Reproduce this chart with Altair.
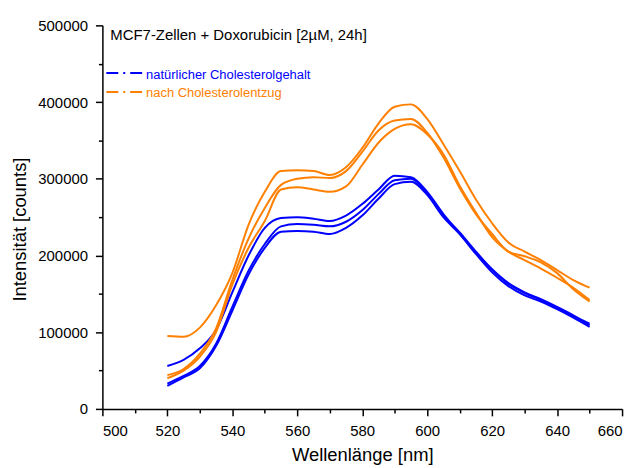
import altair as alt
import pandas as pd

wavelength = [520, 525, 530, 535, 540, 545, 550, 555, 560, 565, 570, 575, 580,
              585, 590, 595, 600, 605, 610, 615, 620, 625, 630, 635, 640, 645, 650]

blue_1 = [56000, 64000, 79000, 103000, 152000, 200000, 236000, 249000, 250000, 248000,
          245000, 252000, 267000, 286000, 304000, 302000, 283000, 254000, 229000, 204000,
          181000, 163000, 151000, 142000, 131000, 121000, 111000]
blue_2 = [33000, 43000, 56000, 85000, 133000, 180000, 215000, 238000, 241000, 240000,
          238000, 244000, 259000, 280000, 298000, 300000, 281000, 252000, 230000, 205000,
          182000, 164000, 152000, 143000, 133000, 122000, 109000]
blue_3 = [30000, 41000, 53000, 82000, 128000, 175000, 210000, 231000, 232000, 231000,
          228000, 236000, 252000, 274000, 293000, 296000, 279000, 250000, 228000, 202000,
          178000, 160000, 148000, 140000, 130000, 119000, 107000]
orange_1 = [95000, 94000, 106000, 135000, 177000, 240000, 283000, 310000, 311000, 310000,
            305000, 315000, 340000, 372000, 394000, 397000, 378000, 345000, 310000, 273000,
            242000, 217000, 205000, 194000, 181000, 168000, 158000]
orange_2 = [44000, 52000, 72000, 105000, 168000, 222000, 262000, 292000, 300000, 302000,
            301000, 310000, 335000, 363000, 376000, 378000, 360000, 328000, 288000, 254000,
            228000, 205000, 199000, 191000, 177000, 156000, 140000]
orange_3 = [40000, 50000, 68000, 100000, 162000, 210000, 245000, 286000, 289000, 286000,
            283000, 290000, 318000, 347000, 365000, 371000, 358000, 332000, 291000, 256000,
            224000, 205000, 194000, 183000, 171000, 158000, 142000]

group_labels = ["natürlicher Cholesterolgehalt", "nach Cholesterolentzug"]
group_colors = ["#0000ff", "#ff8000"]
title_text = "MCF7-Zellen + Doxorubicin [2µM, 24h]"

series = {
    "b1": (blue_1, group_labels[0]),
    "b2": (blue_2, group_labels[0]),
    "b3": (blue_3, group_labels[0]),
    "o1": (orange_1, group_labels[1]),
    "o2": (orange_2, group_labels[1]),
    "o3": (orange_3, group_labels[1]),
}
rows = []
for sid, (vals, grp) in series.items():
    for w, v in zip(wavelength, vals):
        rows.append({"wl": w, "val": v, "series": sid, "group": grp})
df = pd.DataFrame(rows)

FONT = "Liberation Sans"

x_axis = alt.Axis(
    values=list(range(500, 661, 10)),
    labelExpr="datum.value % 20 == 0 ? datum.label : ''",
    format="d",
    tickSize={"condition": {"test": "datum.value % 20 == 0", "value": 7}, "value": 4},
    title="Wellenlänge [nm]",
    grid=False,
    labelPadding=8,
    titlePadding=7,
)
y_axis = alt.Axis(
    values=list(range(0, 500001, 50000)),
    labelExpr="datum.value % 100000 == 0 ? datum.label : ''",
    format="d",
    tickSize={"condition": {"test": "datum.value % 100000 == 0", "value": 7}, "value": 4},
    title="Intensität [counts]",
    grid=False,
    labelPadding=8,
    titlePadding=8,
    titleY=205,
)

lines = alt.Chart(df).mark_line(strokeWidth=2, interpolate="monotone").encode(
    x=alt.X("wl:Q", scale=alt.Scale(domain=[500, 660], nice=False), axis=x_axis),
    y=alt.Y("val:Q", scale=alt.Scale(domain=[0, 500000], nice=False), axis=y_axis),
    color=alt.Color("group:N", scale=alt.Scale(domain=group_labels, range=group_colors), legend=None),
    detail="series:N",
    order="wl:Q",
)

title_df = pd.DataFrame({"t": [title_text]})
title_mark = alt.Chart(title_df).mark_text(
    align="left", baseline="alphabetic", font=FONT, fontSize=15, color="black"
).encode(x=alt.value(8), y=alt.value(15), text="t:N")

leg_df = pd.DataFrame({"label": group_labels, "color": group_colors})
legend_layers = []
for i, (lab, col) in enumerate(zip(group_labels, group_colors)):
    d = leg_df[leg_df["label"] == lab]
    yy = 48 + i * 19
    legend_layers.append(
        alt.Chart(d).mark_rule(strokeWidth=2, strokeDash=[12, 5, 2, 5], color=col).encode(
            x=alt.value(4), x2=alt.value(40), y=alt.value(yy)
        )
    )
    legend_layers.append(
        alt.Chart(d).mark_text(align="left", baseline="alphabetic", font=FONT, fontSize=13, color=col).encode(
            x=alt.value(44), y=alt.value(yy + 5.5), text="label:N"
        )
    )

chart = alt.layer(lines, title_mark, *legend_layers).properties(
    width=523, height=386,
    autosize=alt.AutoSizeParams(type="none"),
    padding={"left": 95, "top": 16, "right": 10, "bottom": 58},
).configure_view(stroke=None).configure_axis(
    labelFont=FONT, titleFont=FONT, labelFontSize=15, titleFontSize=18.5,
    titleFontWeight="normal", labelColor="black", titleColor="black",
    domainColor="black", tickColor="black", domainWidth=1.5, tickWidth=1.5,
)

chart.save("out.html", embed_options={"renderer": "svg", "actions": False})
